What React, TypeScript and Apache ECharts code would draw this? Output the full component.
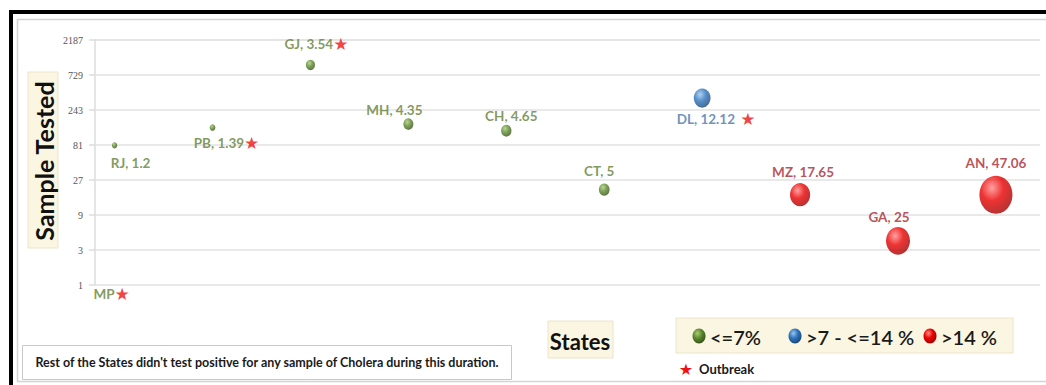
import React, { useEffect, useRef } from "react";
import * as echarts from "echarts";

// ---- data ----
const states = ["MP", "RJ", "PB", "GJ", "MH", "CH", "CT", "DL", "MZ", "GA", "AN"];
const stateIndex = [1, 1, 2, 3, 4, 5, 6, 7, 8, 9, 10];
const samplesTested = [1, 80, 140, 1000, 156, 127, 20, 354, 17, 4, 17];
const positivity: (number | null)[] = [null, 1.2, 1.39, 3.54, 4.35, 4.65, 5, 12.12, 17.65, 25, 47.06];
const outbreak = [true, false, true, true, false, false, false, true, false, false, false];
const yTicks = [1, 3, 9, 27, 81, 243, 729, 2187];
const legendLabels = ["<=7%", ">7 - <=14 %", ">14 %"];
const footnote = "Rest of the States didn't test positive for any sample of Cholera during this duration.";

// ---- layout / style (not data) ----
const labelOffset: Record<string, [number, number]> = {
  MP: [-3, 9],
  RJ: [16, 18],
  PB: [14, 15],
  GJ: [6, -21],
  MH: [-14, -14],
  CH: [5, -15],
  CT: [-5, -19],
  DL: [14, 21],
  MZ: [3, -23],
  GA: [-9, -24],
  AN: [0, -32],
};

const groups = [
  {
    name: legendLabels[0],
    test: (p: number | null) => p === null || p <= 7,
    stops: ["#a9cc78", "#5e8a30", "#2f4d14"],
    text: "#627f36",
  },
  {
    name: legendLabels[1],
    test: (p: number | null) => p !== null && p > 7 && p <= 14,
    stops: ["#9cc6ee", "#2f74bd", "#16406e"],
    text: "#4a76aa",
  },
  {
    name: legendLabels[2],
    test: (p: number | null) => p !== null && p > 14,
    stops: ["#ff8a8a", "#ea0000", "#9a0000"],
    text: "#a8262f",
  },
];

const ball = (stops: string[]) =>
  new echarts.graphic.RadialGradient(0.38, 0.32, 0.75, [
    { offset: 0, color: stops[0] },
    { offset: 0.45, color: stops[1] },
    { offset: 1, color: stops[2] },
  ]);

const MAXP = 47.06;
const MAXW = 33;
const bubbleSize = (p: number | null): number[] => {
  if (p === null) return [0, 0];
  const w = MAXW * Math.sqrt(p / MAXP);
  return [w, w * 1.15];
};

const labelFont = "Lato, 'Open Sans', sans-serif";

function buildSeries() {
  return groups.map((g) => {
    const data: any[] = [];
    states.forEach((s, i) => {
      if (!g.test(positivity[i])) return;
      data.push({
        name: s,
        value: [stateIndex[i], samplesTested[i], positivity[i] ?? 0],
        symbolSize: bubbleSize(positivity[i]),
        label: { offset: labelOffset[s] },
      });
    });
    return {
      type: "scatter",
      name: g.name,
      data,
      itemStyle: { color: ball(g.stops) },
      label: {
        show: true,
        position: "inside",
        formatter: (prm: any) => {
          const i = states.indexOf(prm.name);
          const p = positivity[i];
          const txt = p === null ? states[i] : `${states[i]}, ${p}`;
          const gap = states[i] === "DL" ? " " : "";
          return `{n|${txt}}` + (outbreak[i] ? `{s|${gap}★}` : "");
        },
        rich: {
          n: { color: g.text, fontSize: 13.5, fontWeight: "bold", fontFamily: labelFont },
          s: { color: "#ee1111", fontSize: 17, fontFamily: "'DejaVu Sans'" },
        },
      },
    };
  });
}

function buildGraphics() {
  const beige = "#fbf6e2";
  const els: any[] = [
    // outer black frame
    { type: "rect", shape: { x: 11, y: 12, width: 1060, height: 400 }, style: { fill: "none", stroke: "#000", lineWidth: 4 }, z: -10 },
    // inner panel border
    { type: "rect", shape: { x: 17.5, y: 19.5, width: 1040, height: 362 }, style: { fill: "none", stroke: "#d4d4d4", lineWidth: 1.5 }, z: -10 },
    // y title box
    { type: "rect", shape: { x: 28, y: 72, width: 30, height: 176 }, style: { fill: beige, stroke: "#ebe4cc", lineWidth: 1 }, z: -5 },
    {
      type: "text",
      x: 44,
      y: 161,
      rotation: Math.PI / 2,
      style: { text: "Sample Tested", font: "bold 25px " + labelFont, fill: "#111", align: "center", verticalAlign: "middle" },
    },
    // x title box
    { type: "rect", shape: { x: 548, y: 321, width: 65, height: 37 }, style: { fill: beige, stroke: "#ebe4cc", lineWidth: 1 }, z: -5 },
    {
      type: "text",
      x: 580,
      y: 341,
      style: { text: "States", font: "bold 22px " + labelFont, fill: "#111", align: "center", verticalAlign: "middle" },
    },
    // legend box
    { type: "rect", shape: { x: 676, y: 318, width: 337, height: 35 }, style: { fill: beige, stroke: "#ebe4cc", lineWidth: 1 }, z: -5 },
    // footnote box
    { type: "rect", shape: { x: 22.5, y: 345.5, width: 489, height: 34 }, style: { fill: "#fff", stroke: "#c8c8c8", lineWidth: 1 }, z: -5 },
    {
      type: "text",
      x: 267,
      y: 362,
      style: { text: footnote, font: "bold 12.5px " + labelFont, fill: "#1a1a1a", align: "center", verticalAlign: "middle" },
    },
    // outbreak key
    {
      type: "text",
      x: 686,
      y: 369,
      style: { text: "★", font: "16px 'DejaVu Sans'", fill: "#ee1111", align: "center", verticalAlign: "middle" },
    },
    {
      type: "text",
      x: 699,
      y: 369,
      style: { text: "Outbreak", font: "bold 13px " + labelFont, fill: "#1a1a1a", align: "left", verticalAlign: "middle" },
    },
  ];
  const legendX = [[699, 710], [795, 806], [930, 941]];
  groups.forEach((g, k) => {
    els.push({
      type: "ellipse",
      shape: { cx: legendX[k][0], cy: 336, rx: 6.5, ry: 7.5 },
      style: { fill: ball(g.stops) },
    });
    els.push({
      type: "text",
      x: legendX[k][1],
      y: 337,
      style: { text: g.name, font: "600 20px " + labelFont, fill: "#1a1a1a", align: "left", verticalAlign: "middle" },
    });
  });
  return els;
}

const option: any = {
  animation: false,
  backgroundColor: "#fff",
  grid: { left: 95, right: 6, top: 40, bottom: 100, containLabel: false },
  xAxis: {
    type: "value",
    min: 0.8,
    max: 10.45,
    show: false,
  },
  yAxis: {
    type: "log",
    logBase: 3,
    min: yTicks[0],
    max: yTicks[yTicks.length - 1],
    axisLine: { show: true, lineStyle: { color: "#dcdcdc", width: 1.5 } },
    axisTick: { show: true, length: 6, lineStyle: { color: "#dcdcdc", width: 1.5 } },
    splitLine: { show: true, lineStyle: { color: "#e2e2e2", width: 1.5 } },
    axisLabel: {
      margin: 12,
      color: "#555",
      fontSize: 10,
      fontFamily: "'Liberation Serif', serif",
      formatter: (v: number) => String(Math.round(v)),
    },
  },
  series: buildSeries(),
  graphic: { elements: buildGraphics() },
};

export default function App() {
  const ref = useRef<HTMLDivElement>(null);
  useEffect(() => {
    document.body.style.margin = "0";
    const chart = echarts.init(ref.current!, null, { renderer: "svg" });
    chart.setOption(option);
    return () => chart.dispose();
  }, []);
  return <div ref={ref} style={{ width: 1046, height: 385 }} />;
}
